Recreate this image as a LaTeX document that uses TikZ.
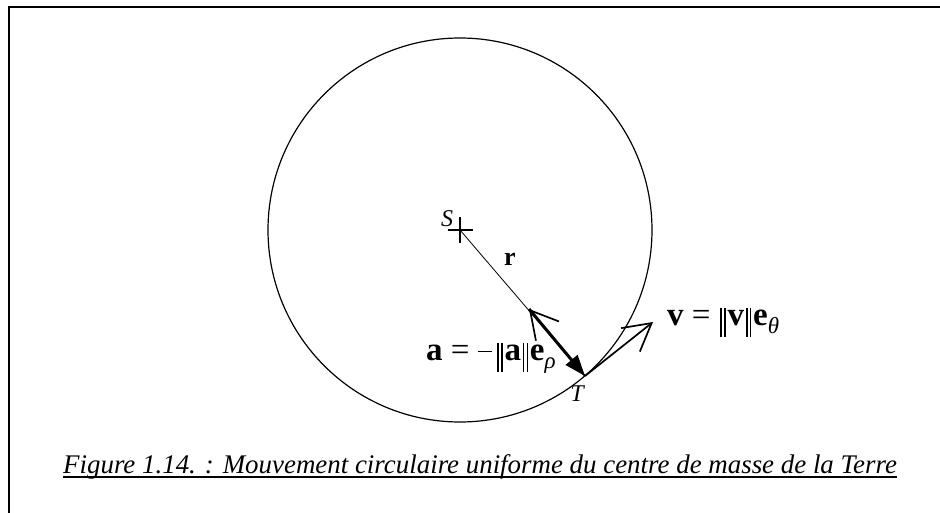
\documentclass[tikz,border=0pt]{standalone}
\usepackage{fontspec}
\setmainfont{Liberation Serif}
\usetikzlibrary{arrows.meta}
\newcommand\normbar{\hspace{0.05em}\rule[-0.37em]{0.05em}{0.89em}\hspace{0.07em}\rule[-0.37em]{0.05em}{0.89em}\hspace{0.05em}}
\newcommand\longminus{\rule[0.23em]{0.42em}{0.045em}\hspace{0.12em}}
\begin{document}
\begin{tikzpicture}[x=1pt,y=-1pt,
  lbl/.style={inner sep=0pt, font=\fontsize{24}{26}\selectfont\itshape},
  eqn/.style={inner sep=0pt, anchor=base west, font=\fontsize{33}{36}\selectfont},
  openhead/.style={line width=1.7pt, -{Straight Barb[length=27pt,width=30pt,line width=1.7pt]}},
  fillhead/.style={line width=3pt, -{Triangle[length=21pt,width=15pt]}}]
\useasboundingbox (0,0) rectangle (940,513);
% frame
\draw[line width=2pt] (9,513) -- (9,7) -- (940,7);
% orbit
\coordinate (S) at (460,230);
\coordinate (T) at (585,376);
\coordinate (A) at (529,309);
\coordinate (V) at (653,322);
\draw[line width=1.2pt] (S) circle (192);
% centre cross
\draw[line width=1.2pt] ([xshift=-12.5pt]S) -- ([xshift=12.5pt]S);
\draw[line width=1.2pt] ([yshift=12.5pt]S) -- ([yshift=-13pt]S);
% radius
\draw[line width=0.8pt] (S) -- (T);
% acceleration and unit vector
\draw[fillhead] (A) -- (T);
\draw[openhead] (T) -- (A);
% velocity
\draw[openhead] (T) -- (V);
% labels
\node[lbl] (Sl) at (447,219) {S};
\node[lbl] (Tl) at (577,394) {T};
\node[inner sep=0pt, font=\fontsize{26}{28}\selectfont\bfseries] (rl) at (510,259) {r};
\node[eqn] (aeq) at (426,360) {\textbf{a} = \longminus\normbar\textbf{a}\normbar\textbf{e}\raisebox{-0.27em}{\fontsize{23}{25}\selectfont\itshape ρ}};
\node[eqn] (veq) at (667,325) {\textbf{v} = \normbar\textbf{v}\normbar\textbf{e}\raisebox{-0.27em}{\fontsize{23}{25}\selectfont\itshape θ}};
% caption
\node[inner sep=0pt, anchor=base west, font=\fontsize{26.9}{29}\selectfont\itshape] (cap) at (63,473) {Figure 1.14. : Mouvement circulaire uniforme du centre de masse de la Terre};
\draw[line width=1.8pt] ([yshift=-4pt]cap.base west) -- ([yshift=-4pt]cap.base east);
\end{tikzpicture}
\end{document}
